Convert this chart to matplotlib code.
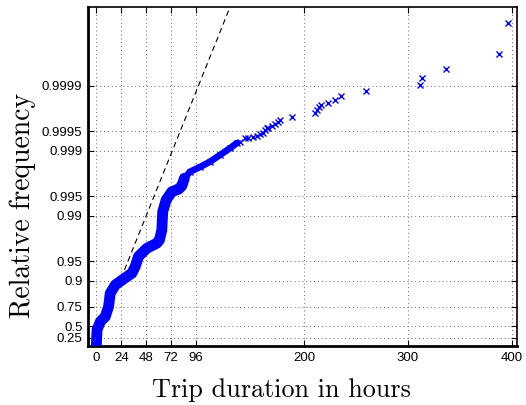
import numpy as np
import matplotlib
matplotlib.use("Agg")
import matplotlib.pyplot as plt

# Empirical distribution of trip durations (hours) on an exponential probability scale
band_hours = [0.0, 0.7, 3.8, 8.6, 11.8, 13.4, 18.3, 24.7, 34.3, 37.5, 40.6, 48.7,
              58.3, 60.8, 63.1, 63.9, 67.2, 72.7, 79.1, 82.3, 84.8]
band_prob = [0.0, 0.433, 0.577, 0.646, 0.751, 0.845, 0.885, 0.903, 0.924, 0.940,
             0.958, 0.9686, 0.9737, 0.9766, 0.9836, 0.9913, 0.9943, 0.99576,
             0.99611, 0.99654, 0.99736]

upper_hours = [82.3, 84.8, 90.3, 99.9, 109.5, 119.1, 128.7, 135.2]
upper_prob = [0.99654, 0.99736, 0.99791, 0.99823, 0.998533, 0.998843, 0.999089,
              0.999237]

tail_hours = [138.3, 143.1, 146.3, 151.1, 154.4, 157.5, 160.7, 162.3, 164.0, 165.5,
              168.8, 172.0, 175.1, 176.8, 188.0, 210.4, 212.0, 214.2, 216.1, 223.2,
              229.6, 235.4, 259.4, 311.9, 313.4, 336.2, 388.1, 396.7]
tail_prob = [0.999279, 0.999361, 0.999374, 0.999396, 0.999417, 0.999445, 0.999476,
             0.999523, 0.999551, 0.999561, 0.999591, 0.999615, 0.999645, 0.999666,
             0.999703, 0.999736, 0.999765, 0.999791, 0.999803, 0.999815, 0.999835,
             0.999857, 0.999881, 0.9999019, 0.9999234, 0.9999455, 0.9999673,
             0.9999892]

# Reference (fitted exponential) line endpoints
ref_hours = [0.0, 131.0]
ref_prob = [0.19, 0.999995]

prob_ticks = [0.25, 0.5, 0.75, 0.9, 0.95, 0.99, 0.995, 0.999, 0.9995, 0.9999]
prob_labels = ['0.25', '0.5', '0.75', '0.9', '0.95', '0.99', '0.995', '0.999',
               '0.9995', '0.9999']
hour_ticks = [0, 24, 48, 72, 96, 200, 300, 400]


def to_exp(p):
    p = np.clip(np.asarray(p, dtype=float), None, 1 - 1e-12)
    return -np.log1p(-p)


def from_exp(t):
    return -np.expm1(-np.asarray(t, dtype=float))


fig = plt.figure(figsize=(5.26, 4.05), dpi=100)
ax = fig.add_axes([0.1673, 0.1457, 0.8156, 0.837])
ax.set_yscale('function', functions=(to_exp, from_exp))

blue = (0, 0, 1)
ax.plot(ref_hours, ref_prob, color='black', lw=0.8, dashes=(5, 3.5), zorder=2)
ax.plot(band_hours, band_prob, color=blue, lw=7.8, solid_capstyle='round',
        solid_joinstyle='round', zorder=3)
ax.plot(upper_hours, upper_prob, color=blue, lw=4.8, solid_capstyle='round',
        solid_joinstyle='round', marker='x', ms=5, mew=1, zorder=3)
ax.plot(tail_hours, tail_prob, linestyle='none', color=blue, marker='x', ms=4.8,
        mew=1, zorder=3)

ax.set_xlim(-8, 405)
ax.set_ylim(0.0, from_exp(12.0))
ax.set_xticks(hour_ticks)
ax.set_xticklabels([str(h) for h in hour_ticks])
ax.set_yticks(prob_ticks)
ax.set_yticklabels(prob_labels)
ax.minorticks_off()

ax.grid(True, color='0.4', lw=0.7, dashes=(1, 3))
ax.tick_params(direction='in', length=4, width=0.8, top=True, right=True,
               labelsize=9.5, pad=4)
for lab in ax.get_xticklabels() + ax.get_yticklabels():
    lab.set_fontfamily('Liberation Sans')
for side in ('left', 'bottom'):
    ax.spines[side].set_linewidth(2.0)
for side in ('top', 'right'):
    ax.spines[side].set_linewidth(1.2)

ax.set_xlabel('Trip duration in hours', fontfamily='cmr10', fontsize=18.8)
ax.set_ylabel('Relative frequency', fontfamily='cmr10', fontsize=20)
ax.xaxis.set_label_coords(0.45, -0.095)
ax.yaxis.set_label_coords(-0.122, 0.416)

fig.savefig('out.png', dpi=100)
